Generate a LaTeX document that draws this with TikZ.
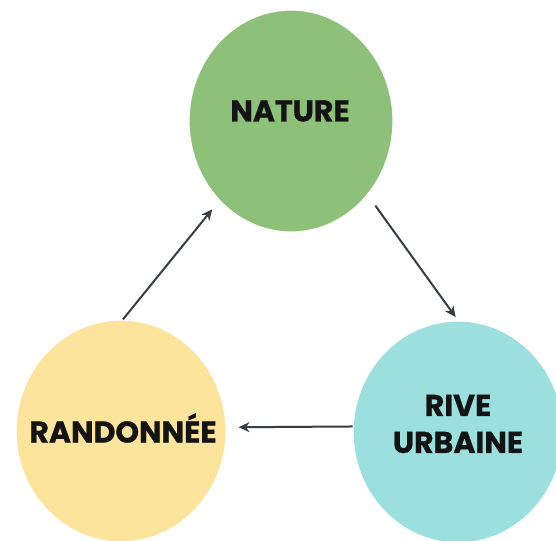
\documentclass[tikz,border=0pt]{standalone}
\usepackage{fontspec}
\setmainfont{Poppins}[BoldFeatures={FakeBold=0.8}]
\usetikzlibrary{arrows.meta,shapes.geometric}
\definecolor{natgreen}{HTML}{8DC17A}
\definecolor{ranyellow}{HTML}{FDE49C}
\definecolor{rivcyan}{HTML}{9BE0DF}
\definecolor{arrowgray}{HTML}{383D42}
\tikzset{
  bubble/.style={ellipse, inner sep=0pt, draw=white, line width=1.2pt},
  lbl/.style={font=\fontsize{30}{37}\selectfont\bfseries, text=black!92, align=center, inner sep=0pt},
  conn/.style={draw=arrowgray, line width=2pt, -{Stealth[length=11pt,width=10pt]}}
}
\begin{document}
\begin{tikzpicture}[x=1pt,y=-1pt]
\useasboundingbox (0,0) rectangle (556,540);
\clip (0,0) rectangle (556,540);
\node[bubble, fill=natgreen, minimum width=204pt, minimum height=222pt] (nat) at (291,121) {};
\node[bubble, fill=ranyellow, minimum width=210pt, minimum height=222pt] (ran) at (121,431) {};
\node[bubble, fill=rivcyan, minimum width=210pt, minimum height=222pt] (riv) at (458,432) {};
\node[lbl] (natt) at (290,111) {NATURE};
\node[lbl] (rant) at (123,428) {RANDONNÉE};
\node[lbl] (rivt) at (458,424) {RIVE\\URBAINE};
\draw[conn, shorten >=11pt] (ran.89) -- (nat.228);
\draw[conn, shorten <=13pt, shorten >=4pt] (nat.316) -- (riv.90);
\draw[conn, shorten >=12pt] (riv.177) -- (ran.2);
\end{tikzpicture}
\end{document}
